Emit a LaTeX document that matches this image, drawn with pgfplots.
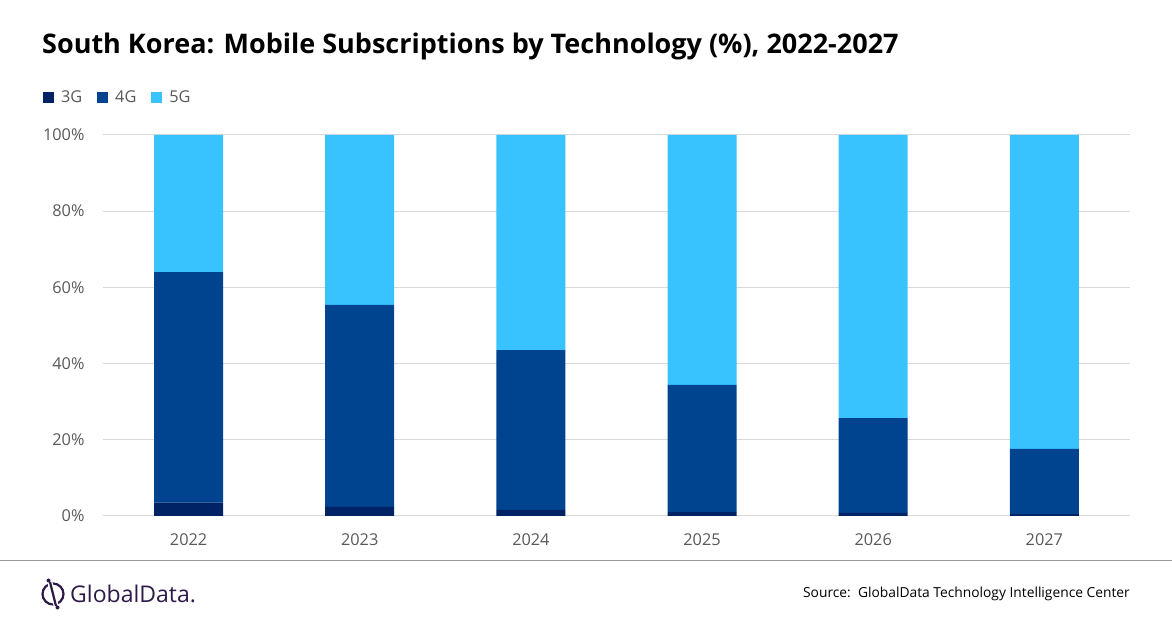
\documentclass[border=0pt]{standalone}
\usepackage{pgfplots}
\pgfplotsset{compat=1.18}
\usepackage{fontspec}
\setmainfont{Open Sans}
\definecolor{gThree}{HTML}{002366}
\definecolor{gFour}{HTML}{00438F}
\definecolor{gFive}{HTML}{38C3FF}
\definecolor{tickgray}{HTML}{595959}
\definecolor{gridgray}{HTML}{D9D9D9}
\definecolor{logopurple}{HTML}{2E1A47}
\begin{document}
\begin{tikzpicture}[x=1pt,y=1pt]
\path[use as bounding box] (0,0) rectangle (1172,628);
\node[anchor=west, font=\fontsize{27}{31}\selectfont\bfseries, inner sep=0pt] at (42,582) {South Korea: Mobile Subscriptions by Technology (\%), 2022-2027};
\begin{axis}[
  at={(103pt,112pt)}, anchor=south west,
  scale only axis, width=1027pt, height=381.2pt,
  ybar stacked, bar width=69pt,
  xmin=-0.5, xmax=5.5, ymin=0, ymax=100,
  xtick={0,1,2,3,4,5},
  xticklabels={2022,2023,2024,2025,2026,2027},
  ytick={0,20,40,60,80,100},
  yticklabel={\pgfmathprintnumber{\tick}\%},
  /pgf/number format/assume math mode=true,
  ymajorgrids, grid style={gridgray, line width=1pt},
  axis line style={draw=none},
  major tick length=0pt,
  tick label style={font=\fontsize{16.3}{19}\selectfont, text=tickgray},
  xticklabel style={yshift=-14pt},
  yticklabel style={xshift=-15pt},
  legend style={at={(-0.0584,1.097)}, anchor=west, draw=none, fill=none,
    font=\fontsize{16.3}{19}\selectfont, text=tickgray, legend columns=-1,
    inner sep=0pt, outer sep=0pt,
    /tikz/every odd column/.append style={column sep=5pt},
    /tikz/every even column/.append style={column sep=13pt}},
  legend image code/.code={\fill[#1] (0pt,-5.5pt) rectangle (11pt,5.5pt);},
  clip=false,
]
\addplot[fill=gThree, draw=none] coordinates {(0,3.5) (1,2.4) (2,1.6) (3,1.0) (4,0.8) (5,0.5)};
\addplot[fill=gFour, draw=none] coordinates {(0,60.5) (1,53.0) (2,41.9) (3,33.4) (4,24.9) (5,17.1)};
\addplot[fill=gFive, draw=none] coordinates {(0,36.0) (1,44.6) (2,56.5) (3,65.6) (4,74.3) (5,82.4)};
\legend{3G,4G,5G}
\end{axis}
\draw[gray!80, line width=1pt] (0,67) -- (1172,67);
% logo
\draw[logopurple, line width=2.2pt] (53,34) circle (10.5);
\fill[white] (53,34) circle (5);
\draw[white, line width=5pt] (49.5,47) -- (56.5,21);
\draw[logopurple, line width=2.2pt] (50,46) -- (56,22);
\fill[logopurple] (48.5,47.5) circle (2);
\fill[logopurple] (57.5,20.5) circle (2);
\node[anchor=west, logopurple, font=\fontsize{23}{26}\selectfont, inner sep=0pt] at (70,34) {GlobalData.};
\node[anchor=east, font=\fontsize{13.8}{16}\selectfont, inner sep=0pt] at (1130,34) {Source:\ \ GlobalData Technology Intelligence Center};
\end{tikzpicture}
\end{document}
